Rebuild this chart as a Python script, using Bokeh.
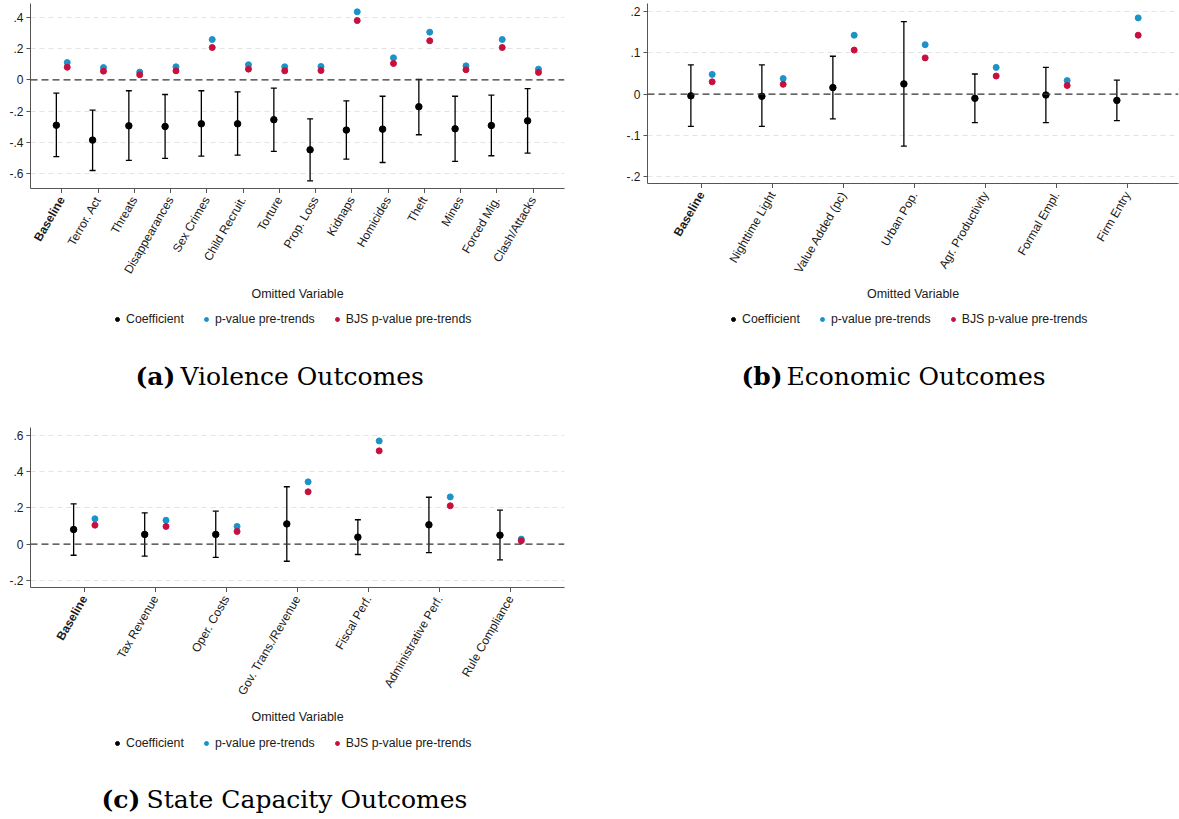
import math
from bokeh.plotting import figure
from bokeh.models import (FixedTicker, CustomJSTickFormatter, Span, Legend,
                          LegendItem, Range1d)
from bokeh.layouts import column, row
from bokeh.embed import file_html
from bokeh.resources import INLINE
from bokeh.core.properties import value

# ---------------- data ----------------
violence_labels = ["Baseline", "Terror. Act", "Threats", "Disappearances", "Sex Crimes",
                   "Child Recruit.", "Torture", "Prop. Loss", "Kidnaps", "Homicides",
                   "Theft", "Mines", "Forced Mig.", "Clash/Attacks"]
violence_coef = [-0.290, -0.385, -0.294, -0.298, -0.281, -0.281, -0.255, -0.447, -0.321,
                 -0.315, -0.172, -0.313, -0.292, -0.262]
violence_hi = [-0.085, -0.194, -0.070, -0.094, -0.070, -0.077, -0.053, -0.249, -0.134,
               -0.105, 0.002, -0.105, -0.098, -0.057]
violence_lo = [-0.490, -0.579, -0.515, -0.502, -0.487, -0.481, -0.457, -0.645, -0.507,
               -0.528, -0.351, -0.521, -0.485, -0.468]
violence_p = [0.110, 0.078, 0.049, 0.083, 0.257, 0.096, 0.083, 0.085, 0.434, 0.140,
              0.304, 0.089, 0.257, 0.068]
violence_bjs = [0.080, 0.055, 0.032, 0.057, 0.206, 0.068, 0.057, 0.059, 0.378, 0.104,
                0.249, 0.064, 0.206, 0.047]

econ_labels = ["Baseline", "Nighttime Light", "Value Added (pc)", "Urban Pop.",
               "Agr. Productivity", "Formal Empl.", "Firm Entry"]
econ_coef = [-0.004, -0.005, 0.016, 0.025, -0.010, -0.002, -0.015]
econ_hi = [0.071, 0.071, 0.092, 0.176, 0.049, 0.065, 0.034]
econ_lo = [-0.078, -0.078, -0.060, -0.126, -0.069, -0.069, -0.064]
econ_p = [0.048, 0.038, 0.143, 0.120, 0.065, 0.033, 0.185]
econ_bjs = [0.030, 0.024, 0.107, 0.088, 0.044, 0.021, 0.143]

state_labels = ["Baseline", "Tax Revenue", "Oper. Costs", "Gov. Trans./Revenue",
                "Fiscal Perf.", "Administrative Perf.", "Rule Compliance"]
state_coef = [0.081, 0.054, 0.054, 0.112, 0.039, 0.107, 0.050]
state_hi = [0.223, 0.173, 0.182, 0.317, 0.135, 0.259, 0.188]
state_lo = [-0.061, -0.066, -0.073, -0.094, -0.057, -0.047, -0.086]
state_p = [0.140, 0.132, 0.098, 0.344, 0.570, 0.261, 0.028]
state_bjs = [0.105, 0.098, 0.070, 0.289, 0.515, 0.212, 0.019]

violence_yticks = [-0.6, -0.4, -0.2, 0.0, 0.2, 0.4]
econ_yticks = [-0.2, -0.1, 0.0, 0.1, 0.2]
state_yticks = [-0.2, 0.0, 0.2, 0.4, 0.6]

legend_names = ["Coefficient", "p-value pre-trends", "BJS p-value pre-trends"]
x_title = "Omitted Variable"
captions = [("(a)", "Violence Outcomes"), ("(b)", "Economic Outcomes"),
            ("(c)", "State Capacity Outcomes")]

# ---------------- style ----------------
SANS = "Liberation Sans"
SERIF = "DejaVu Serif"
BLUE = "#1b93c8"
RED = "#c8103e"
AXIS = "#555555"
TXT = "#1a1a1a"
OFF = 0.15
NAN = float("nan")

Y_FMT = """
var v = Math.round(tick * 100) / 100;
var s = String(v);
if (s.indexOf("0.") === 0) { s = s.slice(1); }
else if (s.indexOf("-0.") === 0) { s = "-" + s.slice(2); }
return s;
"""


def make_panel(labels, coef, lo, hi, pv, bjs, yticks, caption, *, width, b_left, b_top,
               frame_w, frame_h, xr, yr, strip_h, title_top, legend_top, legend_x,
               cap_mid, cap_tag_dx, cap_rest_dx):
    n = len(labels)
    xs = list(range(n))
    b_right = width - b_left - frame_w
    xrng = Range1d(*xr)

    # ---------- main plot ----------
    p = figure(width=width, height=b_top + frame_h + 5, x_range=xrng,
               y_range=Range1d(*yr), output_backend="svg", toolbar_location=None,
               min_border_left=b_left, min_border_top=b_top,
               min_border_right=b_right, min_border_bottom=5)
    p.outline_line_color = None
    p.background_fill_color = "white"
    p.border_fill_color = "white"
    p.xgrid.visible = False
    p.ygrid.ticker = FixedTicker(ticks=[t for t in yticks if abs(t) > 1e-9])
    p.ygrid.grid_line_color = "#e3e3e3"
    p.ygrid.grid_line_dash = "5 4"
    p.ygrid.grid_line_width = 1

    p.add_layout(Span(location=0, dimension="width", line_color="#333333",
                      line_dash="7 4", line_width=1.3))

    xc = [x - OFF for x in xs]
    xp = [x + OFF for x in xs]
    p.segment(x0=xc, y0=lo, x1=xc, y1=hi, line_color="black", line_width=1.3)
    p.scatter(xc, hi, marker="dash", size=6, line_color="black", line_width=1.3)
    p.scatter(xc, lo, marker="dash", size=6, line_color="black", line_width=1.3)
    p.scatter(xc, coef, size=6.5, fill_color="black", line_color="black")
    p.scatter(xp, pv, size=6, fill_color=BLUE, line_color=BLUE)
    p.scatter(xp, bjs, size=6, fill_color=RED, line_color=RED)

    # x axis: line and tick marks only (labels are drawn in the strip below)
    xa = p.xaxis[0]
    xa.ticker = FixedTicker(ticks=[], minor_ticks=xs)
    xa.major_label_standoff = 0
    xa.axis_line_color = AXIS
    xa.major_tick_in = 0
    xa.major_tick_out = 5
    xa.minor_tick_line_color = AXIS
    xa.minor_tick_in = 0
    xa.minor_tick_out = 5

    ya = p.yaxis[0]
    ya.ticker = FixedTicker(ticks=yticks)
    ya.formatter = CustomJSTickFormatter(code=Y_FMT)
    ya.major_label_text_font = SANS
    ya.major_label_text_font_size = "12px"
    ya.major_label_text_color = TXT
    ya.major_label_standoff = 3
    ya.axis_line_color = AXIS
    ya.major_tick_line_color = AXIS
    ya.major_tick_in = 0
    ya.major_tick_out = 4
    ya.minor_tick_line_color = None

    # ---------- strip below: tick labels, axis title, legend, caption ----------
    s = figure(width=width, height=strip_h, x_range=xrng, y_range=Range1d(0, strip_h),
               output_backend="svg", toolbar_location=None,
               min_border_left=b_left, min_border_right=b_right,
               min_border_top=0, min_border_bottom=0,
               x_axis_location=None, y_axis_location=None)
    s.outline_line_color = None
    s.grid.visible = False
    s.background_fill_color = "white"
    s.border_fill_color = "white"

    ty = strip_h - 4
    s.text(x=xs[:1], y=[ty], text=labels[:1], angle=math.pi / 3, text_align="right",
           text_baseline="middle", text_font=value(SANS), text_font_size="12px",
           text_font_style="bold", text_color=TXT)
    s.text(x=xs[1:], y=[ty] * (n - 1), text=labels[1:], angle=math.pi / 3,
           text_align="right", text_baseline="middle", text_font=value(SANS),
           text_font_size="12px", text_font_style="normal", text_color=TXT)

    s.text(x=[(xr[0] + xr[1]) / 2], y=[strip_h - title_top], text=[x_title],
           text_align="center", text_baseline="middle", text_font=value(SANS),
           text_font_size="12.5px", text_color=TXT)

    r_c = s.scatter(x=[NAN], y=[NAN], size=6, fill_color="black", line_color="black")
    r_p = s.scatter(x=[NAN], y=[NAN], size=6, fill_color=BLUE, line_color=BLUE)
    r_b = s.scatter(x=[NAN], y=[NAN], size=6, fill_color=RED, line_color=RED)
    legend = Legend(items=[LegendItem(label=legend_names[0], renderers=[r_c]),
                           LegendItem(label=legend_names[1], renderers=[r_p]),
                           LegendItem(label=legend_names[2], renderers=[r_b])],
                    orientation="horizontal",
                    location=(legend_x, strip_h - legend_top - 7),
                    glyph_width=10, glyph_height=14, label_standoff=4, spacing=17,
                    padding=0, margin=0, border_line_color=None,
                    background_fill_alpha=0, label_text_font=SANS,
                    label_text_font_size="12.3px", label_text_color=TXT,
                    label_height=14)
    s.add_layout(legend, "center")

    cy = strip_h - cap_mid
    s.text(x=[xr[0]], y=[cy], x_offset=cap_tag_dx, text=[caption[0]],
           text_font=value(SERIF), text_font_size="25px", text_font_style="bold",
           text_baseline="middle", text_align="left", text_color="black")
    s.text(x=[xr[0]], y=[cy], x_offset=cap_rest_dx, text=[caption[1]],
           text_font=value(SERIF), text_font_size="25px", text_font_style="normal",
           text_baseline="middle", text_align="left", text_color="black")
    return column(p, s)


colA = make_panel(violence_labels, violence_coef, violence_lo, violence_hi, violence_p,
                  violence_bjs, violence_yticks, captions[0],
                  width=588, b_left=30, b_top=3, frame_w=534, frame_h=185,
                  xr=(-0.863, 13.868), yr=(-0.694, 0.487),
                  strip_h=212, title_top=100, legend_top=126, legend_x=82,
                  cap_mid=183, cap_tag_dx=105, cap_rest_dx=150)
colB = make_panel(econ_labels, econ_coef, econ_lo, econ_hi, econ_p, econ_bjs,
                  econ_yticks, captions[1],
                  width=591, b_left=59, b_top=3, frame_w=531, frame_h=180,
                  xr=(-0.761, 6.718), yr=(-0.2165, 0.2199),
                  strip_h=217, title_top=105, legend_top=131, legend_x=81,
                  cap_mid=188, cap_tag_dx=94, cap_rest_dx=139)
colC = make_panel(state_labels, state_coef, state_lo, state_hi, state_p, state_bjs,
                  state_yticks, captions[2],
                  width=588, b_left=30, b_top=22, frame_w=534, frame_h=160,
                  xr=(-0.757, 6.758), yr=(-0.239, 0.644),
                  strip_h=226, title_top=124, legend_top=151, legend_x=82,
                  cap_mid=207, cap_tag_dx=71, cap_rest_dx=116)

layout = column(row(colA, colB), colC)

open("out.html", "w").write(file_html(layout, INLINE))
